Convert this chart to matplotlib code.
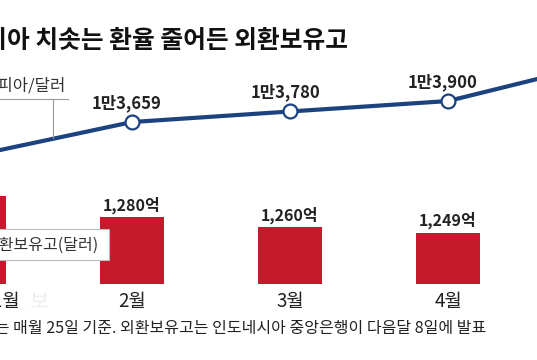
import matplotlib.pyplot as plt
import matplotlib.patches as mpatches

plt.rcParams['font.family'] = ['Noto Sans CJK KR', 'DejaVu Sans']

# data
months = ['2018년 1월', '2월', '3월', '4월', '5월']
reserve = [1322, 1280, 1260, 1249, 1240]          # 외환보유고 (억 달러)
reserve_labels = ['', '1,280억', '1,260억', '1,249억', '']
rate = [13274, 13659, 13780, 13900, 14348]        # 루피아/달러
rate_labels = ['', '1만3,659', '1만3,780', '1만3,900', '']

W, H = 537, 360
def fx(x):
    return x / W
def fy(y):
    return 1 - y / H

fig = plt.figure(figsize=(5.37, 3.6), dpi=100)
ax = fig.add_axes([0, 0, 1, 1])
ax2 = ax.twinx()

red = '#c6192b'
navy = '#1d4280'
dark = '#222222'

xs = list(range(len(months)))
base = 1146
ax.bar(xs, [v - base for v in reserve], bottom=base, width=0.41, color=red, zorder=2)
ax.set_xlim(0.1646, 3.563)
ax.set_ylim(994, 1714)
ax.axis('off')

ax2.plot(xs, rate, color=navy, lw=3, zorder=3,
         marker='o', markersize=10, markerfacecolor='white',
         markeredgecolor=navy, markeredgewidth=1.6)
ax2.set_ylim(10927, 15060)
ax2.set_xlim(0.1646, 3.563)
ax2.axis('off')

for i in xs:
    if rate_labels[i]:
        ax2.annotate(rate_labels[i], (i, rate[i]), xytext=(-5, 19), textcoords='offset pixels',
                     ha='center', va='center', fontsize=12, fontweight='bold', color=dark)
    if reserve_labels[i]:
        ax.annotate(reserve_labels[i], (i, reserve[i]), xytext=(0, 12), textcoords='offset pixels',
                    ha='center', va='center', fontsize=11.5, fontweight='bold', color=dark)

xt = ax.get_xaxis_transform()
for i, m in enumerate(months):
    ax.text(i, fy(302), m, transform=xt, ha='center', va='center', fontsize=13.5, color=dark)

# title and notes
fig.text(fx(348), fy(41), '인도네시아 치솟는 환율 줄어든 외환보유고', ha='right', va='center',
         fontsize=17.8, fontweight='bold', color='#111111')
fig.text(fx(486), fy(328), '※환율 수치는 매월 25일 기준. 외환보유고는 인도네시아 중앙은행이 다음달 8일에 발표',
         ha='right', va='center', fontsize=11.5, color=dark)

# line legend
fig.text(fx(66), fy(86), '루피아/달러', ha='right', va='center', fontsize=12, color='#333333')
fig.add_artist(plt.Line2D([fx(0), fx(68)], [fy(99), fy(99)], color='#999999', lw=0.8))
fig.add_artist(plt.Line2D([fx(53), fx(53)], [fy(99), fy(138)], color='#999999', lw=0.8))

# bar legend
box = mpatches.Rectangle((fx(-5), fy(260)), fx(114), 31 / H, transform=fig.transFigure,
                         facecolor='white', edgecolor='#bbbbbb', lw=0.8, zorder=5)
fig.add_artist(box)
fig.text(fx(98), fy(245), '외환보유고(달러)', ha='right', va='center', fontsize=11.5,
         color='#333333', zorder=6)

# watermark
fig.text(fx(49), fy(302), '보', ha='right', va='center', fontsize=15, color='#efefef', zorder=0)

fig.savefig('out.png', dpi=100)
